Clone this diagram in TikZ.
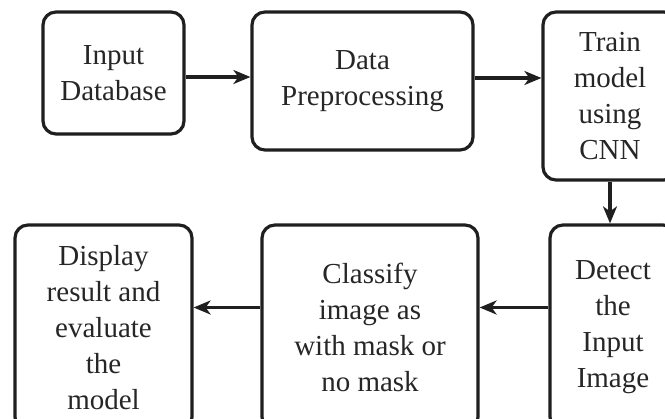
\documentclass[tikz,border=0pt]{standalone}
\usepackage{fontspec}
\setmainfont{Liberation Serif}
\usetikzlibrary{arrows.meta}
\tikzset{
  box/.style={draw=black!88, line width=3.2pt, rounded corners=13pt, inner sep=0pt,
    align=center, font=\fontsize{29}{36}\selectfont, text=black!85},
  arr/.style={draw=black!88, line width=3.2pt, -{Stealth[length=17pt,width=14pt,inset=5pt]}}
}
\begin{document}
\begin{tikzpicture}[x=1pt,y=-1pt]
\useasboundingbox (0,0) rectangle (665,419);
\clip (0,0) rectangle (665,419);
\node[box, minimum width=141pt, minimum height=122pt] (b1) at (113.5,73) {Input\\Database};
\node[box, minimum width=221pt, minimum height=138pt] (b2) at (362.5,81) {Data\\Preprocessing};
\node[box, minimum width=134pt, minimum height=168pt] (b3) at (610,96) {Train\\model\\using\\CNN};
\node[box, minimum width=126pt, minimum height=205pt] (b4) at (613,327.5) {Detect\\the\\Input\\Image};
\node[box, minimum width=216pt, minimum height=205pt] (b5) at (370,327.5) {Classify\\image as\\with mask or\\no mask};
\node[box, minimum width=177pt, minimum height=205pt] (b6) at (103.5,327.5) {Display\\result and\\evaluate\\the\\model};
\draw[arr] ([yshift=-4pt]b1.east) -- ([yshift=-4pt]b1.east -| b2.west);
\draw[arr] ([yshift=3pt]b2.east) -- ([yshift=3pt]b2.east -| b3.west);
\draw[arr] (b3.south) -- (b3.south |- b4.north);
\draw[arr] ([yshift=20pt]b4.west) -- ([yshift=20pt]b4.west -| b5.east);
\draw[arr] ([yshift=20pt]b5.west) -- ([yshift=20pt]b5.west -| b6.east);
\end{tikzpicture}
\end{document}
